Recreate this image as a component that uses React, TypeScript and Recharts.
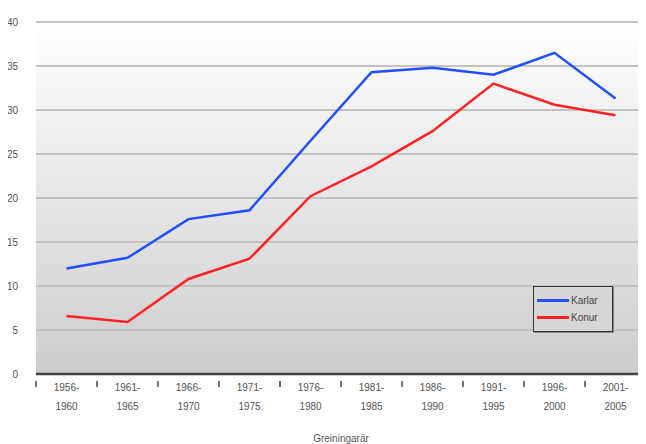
import React from 'react';
import { LineChart, Line, XAxis, YAxis, CartesianGrid, Legend } from 'recharts';

// tímabil (5 ára)
const periods = [
  ['1956-', '1960'], ['1961-', '1965'], ['1966-', '1970'], ['1971-', '1975'], ['1976-', '1980'],
  ['1981-', '1985'], ['1986-', '1990'], ['1991-', '1995'], ['1996-', '2000'], ['2001-', '2005'],
];
const karlar = [12.0, 13.2, 17.6, 18.6, 26.5, 34.3, 34.8, 34.0, 36.5, 31.3];
const konur = [6.6, 5.9, 10.8, 13.1, 20.2, 23.6, 27.6, 33.0, 30.6, 29.4];
const yTicks = [0, 5, 10, 15, 20, 25, 30, 35, 40];

const data = periods.map((p, i) => ({
  x: i + 0.5,
  label: p,
  karlar: karlar[i],
  konur: konur[i],
}));

// ticks: whole numbers = tick marks between periods, halves = period labels
const xTicks: number[] = [];
for (let i = 0; i <= periods.length * 2; i++) xTicks.push(i / 2);

const FONT = '"Liberation Sans", Arial, sans-serif';

function XTick(props: any) {
  const { x, y, payload } = props;
  const v = payload.value as number;
  if (Number.isInteger(v)) {
    return <line x1={x} x2={x} y1={y - 1} y2={y + 5} stroke="#444" strokeWidth={1.5} />;
  }
  const p = periods[Math.floor(v)];
  return (
    <text x={x} y={y} textAnchor="middle" fontSize={10} fill="#555" fontFamily={FONT}>
      <tspan x={x} dy={9}>{p[0]}</tspan>
      <tspan x={x} dy={19}>{p[1]}</tspan>
    </text>
  );
}

function LegendBox() {
  const items = [
    { name: 'Karlar', color: '#1f4fff' },
    { name: 'Konur', color: '#ff2222' },
  ];
  return (
    <div style={{
      border: '1.5px solid #333',
      background: '#d6d6d6',
      padding: '5px 3px',
      boxShadow: '1px 1px 0 #888',
    }}>
      {items.map((it) => (
        <div key={it.name} style={{ display: 'flex', alignItems: 'center', height: 17, fontFamily: FONT, fontSize: 10, color: '#444' }}>
          <span style={{ display: 'inline-block', width: 32, height: 2.5, background: it.color, marginRight: 2 }} />
          {it.name}
        </div>
      ))}
    </div>
  );
}

export default function App() {
  return (
    <div style={{ margin: '-8px 0 0 -8px', width: 646, height: 444, background: '#fff' }}>
      <LineChart width={646} height={444} data={data} margin={{ top: 22, right: 0, bottom: 0, left: 0 }}>
        <defs>
          <linearGradient id="plotBg" x1="0" y1="0" x2="0" y2="1">
            <stop offset="0%" stopColor="#ffffff" />
            <stop offset="100%" stopColor="#cdcdcd" />
          </linearGradient>
        </defs>
        <CartesianGrid
          vertical={false}
          horizontalValues={yTicks}
          stroke="#c2c2c2"
          strokeWidth={2}
          fill="url(#plotBg)"
          fillOpacity={1}
        />
        <XAxis
          dataKey="x"
          type="number"
          domain={[0, periods.length]}
          ticks={xTicks}
          interval={0}
          tick={<XTick />}
          tickLine={false}
          axisLine={{ stroke: '#444', strokeWidth: 2.5 }}
          height={70}
          label={{ value: 'Greiningarár', position: 'insideBottom', offset: 2, fontSize: 10, fill: '#555', fontFamily: FONT }}
        />
        <YAxis
          domain={[0, 40]}
          ticks={yTicks}
          interval={0}
          width={36}
          axisLine={false}
          tickLine={false}
          tick={{ fontSize: 10, fill: '#555', fontFamily: FONT, dx: -10 }}
        />
        <Legend
          layout="vertical"
          align="center"
          verticalAlign="middle"
          content={<LegendBox />}
          wrapperStyle={{ left: 533, top: 286, width: 80 }}
        />
        <Line dataKey="karlar" name="Karlar" stroke="#1f4fff" strokeWidth={2.5} dot={false} isAnimationActive={false} />
        <Line dataKey="konur" name="Konur" stroke="#ff2222" strokeWidth={2.5} dot={false} isAnimationActive={false} />
      </LineChart>
    </div>
  );
}
